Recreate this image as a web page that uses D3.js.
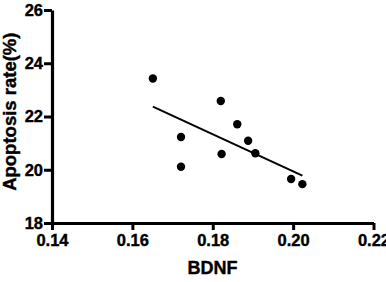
<!DOCTYPE html>
<html>
<head>
<meta charset="utf-8">
<script src="https://cdn.jsdelivr.net/npm/d3@7"></script>
<style>
body { margin: 0; background: #fff; }
text { font-family: "Liberation Sans", Arial, sans-serif; font-weight: bold; }
</style>
</head>
<body>
<div id="chart"></div>
<script>
// values
var bdnf = [0.1651, 0.1721, 0.1721, 0.1820, 0.1822, 0.1861, 0.1888, 0.1906, 0.1995, 0.2023];
var apoptosis = [23.43, 21.23, 20.11, 22.58, 20.59, 21.71, 21.09, 20.62, 19.65, 19.46];
var xTicks = [0.14, 0.16, 0.18, 0.20, 0.22];
var yTicks = [18, 20, 22, 24, 26];

var width = 386, height = 282;
var margin = {top: 10, right: 12.5, bottom: 59, left: 52};

var svg = d3.select("#chart").append("svg")
	.attr("width", width)
	.attr("height", height);

var xScale = d3.scaleLinear().domain([0.14, 0.22]).range([margin.left, width - margin.right]);
var yScale = d3.scaleLinear().domain([18, 26]).range([height - margin.bottom, margin.top]);

// least squares fit
var mx = d3.mean(bdnf), my = d3.mean(apoptosis);
var sxy = 0, sxx = 0;
for (var i = 0; i < bdnf.length; i++) {
	sxy += (bdnf[i] - mx) * (apoptosis[i] - my);
	sxx += (bdnf[i] - mx) * (bdnf[i] - mx);
}
var slope = sxy / sxx, icpt = my - slope * mx;
var x0 = d3.min(bdnf), x1 = d3.max(bdnf);

svg.append("line")
	.attr("x1", xScale(x0)).attr("y1", yScale(icpt + slope * x0))
	.attr("x2", xScale(x1)).attr("y2", yScale(icpt + slope * x1))
	.attr("stroke", "#000")
	.attr("stroke-width", 2);

svg.selectAll(".dot")
	.data(d3.range(bdnf.length))
	.enter()
		.append("circle")
		.attr("class", "dot")
		.attr("cx", function(i) { return xScale(bdnf[i]); })
		.attr("cy", function(i) { return yScale(apoptosis[i]); })
		.attr("r", 4.2)
		.attr("fill", "#000");

var xAxis = svg.append("g")
	.attr("transform", "translate(0," + (height - margin.bottom) + ")")
	.call(d3.axisBottom(xScale).tickValues(xTicks).tickFormat(d3.format(".2f")).tickSize(7).tickSizeOuter(0).tickPadding(4));
var yAxis = svg.append("g")
	.attr("transform", "translate(" + margin.left + ",0)")
	.call(d3.axisLeft(yScale).tickValues(yTicks).tickSize(8).tickSizeOuter(0).tickPadding(1));

[xAxis, yAxis].forEach(function(ax) {
	ax.select(".domain").attr("stroke", "#000").attr("stroke-width", 3.2);
	ax.selectAll(".tick line").attr("stroke", "#000").attr("stroke-width", 3);
	ax.selectAll(".tick text")
		.attr("fill", "#000")
		.attr("stroke", "#000")
		.attr("stroke-width", 0.4)
		.style("font-size", "16.5px")
		.style("font-family", "'Liberation Sans', Arial, sans-serif")
		.style("font-weight", "bold");
});

svg.append("text")
	.attr("x", 212.5)
	.attr("y", 274)
	.attr("text-anchor", "middle")
	.attr("stroke", "#000")
	.attr("stroke-width", 0.4)
	.style("font-size", "18px")
	.text("BDNF");

svg.append("text")
	.attr("transform", "translate(16," + 111.7 + ") rotate(-90)")
	.attr("text-anchor", "middle")
	.attr("stroke", "#000")
	.attr("stroke-width", 0.4)
	.style("font-size", "18.5px")
	.text("Apoptosis rate(%)");
</script>
</body>
</html>
